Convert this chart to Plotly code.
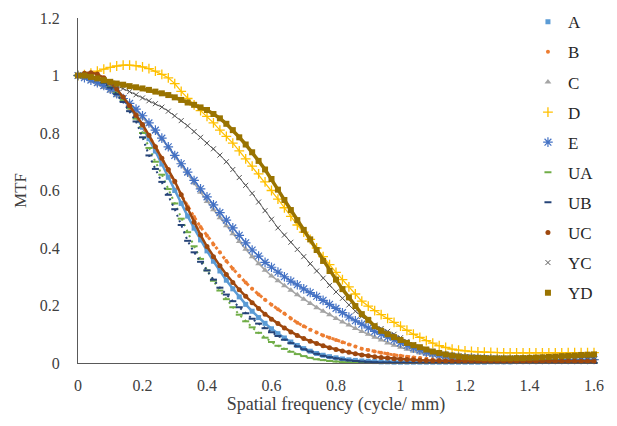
import plotly.graph_objects as go

freq = [0.00, 0.02, 0.04, 0.06, 0.08, 0.10, 0.12, 0.14, 0.16, 0.18,
        0.20, 0.22, 0.24, 0.26, 0.28, 0.30, 0.32, 0.34, 0.36, 0.38,
        0.40, 0.42, 0.44, 0.46, 0.48, 0.50, 0.52, 0.54, 0.56, 0.58,
        0.60, 0.62, 0.64, 0.66, 0.68, 0.70, 0.72, 0.74, 0.76, 0.78,
        0.80, 0.82, 0.84, 0.86, 0.88, 0.90, 0.92, 0.94, 0.96, 0.98,
        1.00, 1.02, 1.04, 1.06, 1.08, 1.10, 1.12, 1.14, 1.16, 1.18,
        1.20, 1.22, 1.24, 1.26, 1.28, 1.30, 1.32, 1.34, 1.36, 1.38,
        1.40, 1.42, 1.44, 1.46, 1.48, 1.50, 1.52, 1.54, 1.56, 1.58,
        1.60]

A = [1.000, 0.999, 0.996, 0.990, 0.980, 0.965, 0.945, 0.920, 0.890, 0.857,
     0.820, 0.780, 0.737, 0.692, 0.646, 0.600, 0.555, 0.511, 0.469, 0.428,
     0.390, 0.354, 0.320, 0.288, 0.258, 0.230, 0.204, 0.180, 0.158, 0.138,
     0.119, 0.102, 0.087, 0.073, 0.061, 0.050, 0.041, 0.033, 0.027, 0.022,
     0.018, 0.014, 0.011, 0.009, 0.007, 0.006, 0.005, 0.004, 0.004, 0.003,
     0.003, 0.003, 0.003, 0.003, 0.003, 0.003, 0.003, 0.003, 0.003, 0.003,
     0.003, 0.003, 0.003, 0.003, 0.004, 0.004, 0.004, 0.004, 0.005, 0.005,
     0.005, 0.005, 0.006, 0.006, 0.006, 0.006, 0.007, 0.007, 0.007, 0.008,
     0.008]

B = [1.000, 1.002, 1.000, 0.993, 0.980, 0.962, 0.940, 0.915, 0.887, 0.857,
     0.825, 0.790, 0.752, 0.712, 0.670, 0.628, 0.585, 0.545, 0.508, 0.473,
     0.443, 0.412, 0.385, 0.355, 0.328, 0.303, 0.280, 0.258, 0.238, 0.220,
     0.203, 0.187, 0.172, 0.155, 0.140, 0.128, 0.116, 0.106, 0.096, 0.088,
     0.080, 0.072, 0.064, 0.057, 0.050, 0.045, 0.040, 0.036, 0.032, 0.028,
     0.025, 0.022, 0.019, 0.017, 0.015, 0.013, 0.012, 0.011, 0.010, 0.009,
     0.008, 0.008, 0.008, 0.008, 0.008, 0.008, 0.008, 0.008, 0.008, 0.008,
     0.008, 0.008, 0.008, 0.008, 0.008, 0.008, 0.008, 0.008, 0.008, 0.008,
     0.008]

C = [1.000, 0.990, 0.980, 0.970, 0.958, 0.945, 0.930, 0.913, 0.895, 0.875,
     0.853, 0.830, 0.805, 0.778, 0.750, 0.720, 0.690, 0.658, 0.626, 0.594,
     0.562, 0.533, 0.505, 0.477, 0.450, 0.423, 0.396, 0.370, 0.345, 0.323,
     0.303, 0.286, 0.269, 0.253, 0.237, 0.222, 0.207, 0.192, 0.180, 0.168,
     0.155, 0.143, 0.132, 0.120, 0.110, 0.100, 0.090, 0.080, 0.070, 0.062,
     0.055, 0.048, 0.041, 0.035, 0.030, 0.026, 0.022, 0.019, 0.017, 0.015,
     0.013, 0.012, 0.011, 0.010, 0.010, 0.010, 0.010, 0.010, 0.010, 0.010,
     0.010, 0.010, 0.011, 0.011, 0.011, 0.012, 0.012, 0.012, 0.013, 0.013,
     0.013]

D = [1.000, 1.003, 1.008, 1.015, 1.022, 1.028, 1.033, 1.036, 1.036, 1.034,
     1.030, 1.024, 1.015, 1.004, 0.992, 0.972, 0.945, 0.920, 0.898, 0.878,
     0.858, 0.835, 0.810, 0.788, 0.765, 0.738, 0.710, 0.685, 0.658, 0.630,
     0.600, 0.570, 0.540, 0.510, 0.480, 0.455, 0.430, 0.400, 0.370, 0.342,
     0.315, 0.290, 0.265, 0.240, 0.215, 0.198, 0.182, 0.168, 0.155, 0.141,
     0.128, 0.114, 0.100, 0.089, 0.078, 0.069, 0.060, 0.054, 0.048, 0.045,
     0.042, 0.040, 0.039, 0.038, 0.037, 0.036, 0.035, 0.035, 0.035, 0.035,
     0.035, 0.035, 0.035, 0.035, 0.035, 0.035, 0.036, 0.036, 0.036, 0.036,
     0.036]

E = [1.000, 0.992, 0.984, 0.975, 0.965, 0.952, 0.937, 0.920, 0.903, 0.883,
     0.860, 0.835, 0.810, 0.782, 0.752, 0.722, 0.693, 0.664, 0.635, 0.606,
     0.578, 0.550, 0.523, 0.497, 0.470, 0.444, 0.418, 0.393, 0.372, 0.350,
     0.333, 0.316, 0.300, 0.285, 0.272, 0.258, 0.245, 0.232, 0.218, 0.204,
     0.190, 0.175, 0.160, 0.147, 0.135, 0.122, 0.110, 0.100, 0.090, 0.080,
     0.070, 0.061, 0.052, 0.045, 0.038, 0.033, 0.028, 0.025, 0.022, 0.020,
     0.018, 0.017, 0.016, 0.015, 0.014, 0.013, 0.012, 0.012, 0.012, 0.012,
     0.012, 0.012, 0.012, 0.012, 0.012, 0.012, 0.012, 0.012, 0.012, 0.012,
     0.012]

UA = [1.000, 0.998, 0.994, 0.987, 0.975, 0.960, 0.940, 0.915, 0.886, 0.850,
      0.800, 0.748, 0.700, 0.655, 0.605, 0.555, 0.502, 0.455, 0.406, 0.362,
      0.322, 0.286, 0.252, 0.222, 0.194, 0.168, 0.145, 0.124, 0.105, 0.088,
      0.073, 0.060, 0.049, 0.039, 0.031, 0.024, 0.018, 0.013, 0.010, 0.007,
      0.005, 0.003, 0.002, 0.001, 0.000, 0.000, 0.000, 0.000, 0.000, 0.000,
      0.000, 0.000, 0.000, 0.000, 0.000, 0.000, 0.000, 0.000, 0.000, 0.000,
      0.000, 0.000, 0.000, 0.000, 0.000, 0.000, 0.000, 0.000, 0.000, 0.000,
      0.000, 0.000, 0.000, 0.000, 0.000, 0.000, 0.000, 0.000, 0.000, 0.000,
      0.000]

UB = [1.000, 0.998, 0.995, 0.988, 0.975, 0.958, 0.935, 0.908, 0.876, 0.840,
      0.785, 0.722, 0.675, 0.630, 0.585, 0.535, 0.480, 0.425, 0.385, 0.352,
      0.322, 0.290, 0.262, 0.238, 0.215, 0.194, 0.173, 0.154, 0.137, 0.121,
      0.107, 0.094, 0.081, 0.069, 0.058, 0.048, 0.040, 0.032, 0.025, 0.020,
      0.016, 0.012, 0.009, 0.007, 0.005, 0.004, 0.003, 0.002, 0.002, 0.001,
      0.001, 0.001, 0.000, 0.000, 0.000, 0.000, 0.000, 0.000, 0.000, 0.000,
      0.000, 0.000, 0.000, 0.000, 0.000, 0.000, 0.000, 0.000, 0.000, 0.000,
      0.000, 0.000, 0.000, 0.000, 0.000, 0.000, 0.000, 0.000, 0.000, 0.000,
      0.000]

UC = [1.000, 1.008, 1.010, 1.005, 0.992, 0.975, 0.953, 0.925, 0.895, 0.862,
      0.830, 0.792, 0.752, 0.712, 0.673, 0.632, 0.585, 0.537, 0.490, 0.445,
      0.405, 0.370, 0.338, 0.308, 0.280, 0.255, 0.232, 0.210, 0.190, 0.170,
      0.152, 0.137, 0.122, 0.108, 0.096, 0.085, 0.076, 0.068, 0.060, 0.053,
      0.047, 0.042, 0.037, 0.032, 0.028, 0.025, 0.022, 0.019, 0.017, 0.015,
      0.013, 0.012, 0.011, 0.010, 0.009, 0.008, 0.008, 0.007, 0.007, 0.007,
      0.006, 0.006, 0.006, 0.006, 0.006, 0.006, 0.006, 0.006, 0.006, 0.006,
      0.006, 0.006, 0.006, 0.006, 0.006, 0.006, 0.006, 0.006, 0.006, 0.006,
      0.006]

YC = [1.000, 0.998, 0.994, 0.988, 0.981, 0.973, 0.964, 0.955, 0.944, 0.933,
      0.922, 0.912, 0.902, 0.890, 0.876, 0.860, 0.843, 0.825, 0.805, 0.785,
      0.765, 0.745, 0.723, 0.700, 0.673, 0.645, 0.618, 0.590, 0.560, 0.530,
      0.500, 0.470, 0.445, 0.420, 0.395, 0.370, 0.345, 0.320, 0.295, 0.270,
      0.247, 0.225, 0.202, 0.180, 0.162, 0.145, 0.132, 0.120, 0.110, 0.100,
      0.088, 0.075, 0.064, 0.053, 0.045, 0.038, 0.033, 0.029, 0.026, 0.024,
      0.022, 0.021, 0.020, 0.019, 0.018, 0.018, 0.018, 0.018, 0.018, 0.018,
      0.018, 0.018, 0.019, 0.019, 0.019, 0.019, 0.020, 0.020, 0.020, 0.020,
      0.020]

YD = [1.000, 1.000, 0.995, 0.990, 0.984, 0.978, 0.972, 0.968, 0.963, 0.959,
      0.955, 0.950, 0.944, 0.938, 0.932, 0.924, 0.915, 0.906, 0.898, 0.889,
      0.880, 0.866, 0.851, 0.832, 0.810, 0.785, 0.760, 0.733, 0.703, 0.673,
      0.640, 0.603, 0.567, 0.532, 0.497, 0.463, 0.430, 0.393, 0.355, 0.320,
      0.290, 0.257, 0.228, 0.198, 0.170, 0.150, 0.128, 0.112, 0.100, 0.090,
      0.080, 0.070, 0.062, 0.055, 0.047, 0.040, 0.035, 0.030, 0.026, 0.023,
      0.020, 0.019, 0.018, 0.017, 0.016, 0.016, 0.016, 0.016, 0.017, 0.017,
      0.018, 0.019, 0.020, 0.021, 0.022, 0.024, 0.025, 0.026, 0.028, 0.029,
      0.030]

series_names = ["A", "B", "C", "D", "E", "UA", "UB", "UC", "YC", "YD"]
series_values = [A, B, C, D, E, UA, UB, UC, YC, YD]

# style per series: colour, marker symbol, marker size, marker line width, connecting line width, line dash
styles = {
    "A":  dict(color="#5B9BD5", symbol="square", size=5, mlw=0, lw=2.5, dash="solid"),
    "B":  dict(color="#ED7D31", symbol="circle", size=4, mlw=0, lw=3, dash="dot"),
    "C":  dict(color="#A5A5A5", symbol="triangle-up", size=6, mlw=0, lw=1.5, dash="solid"),
    "D":  dict(color="#FFC000", symbol="cross-thin-open", size=7, mlw=1.3, lw=1.2, dash="solid"),
    "E":  dict(color="#4472C4", symbol="asterisk-open", size=8, mlw=1.2, lw=1.5, dash="solid"),
    "UA": dict(color="#70AD47", symbol="line-ew-open", size=5, mlw=2, lw=2, dash="2px,4px"),
    "UB": dict(color="#264478", symbol="line-ew-open", size=5, mlw=2, lw=2, dash="2px,4px"),
    "UC": dict(color="#9E480E", symbol="circle", size=5, mlw=0, lw=2.5, dash="solid"),
    "YC": dict(color="#595959", symbol="x-thin-open", size=5, mlw=1, lw=1, dash="solid"),
    "YD": dict(color="#997300", symbol="square", size=6, mlw=0, lw=3.5, dash="solid"),
}

fig = go.Figure()
for name, vals in zip(series_names, series_values):
    s = styles[name]
    if s["lw"] > 0:
        fig.add_trace(go.Scatter(
            x=freq, y=vals, mode="lines", name=name, legendgroup=name,
            showlegend=False, hoverinfo="skip", cliponaxis=False,
            line=dict(color=s["color"], width=s["lw"], dash=s["dash"]),
        ))
    fig.add_trace(go.Scatter(
        x=freq, y=vals, mode="markers", name=name, legendgroup=name,
        cliponaxis=False,
        marker=dict(symbol=s["symbol"], size=s["size"], color=s["color"],
                    line=dict(color=s["color"], width=s["mlw"])),
    ))

font_family = "Liberation Serif"

fig.update_layout(
    width=617, height=426,
    margin=dict(l=78, r=23, t=18, b=63, autoexpand=False),
    paper_bgcolor="white", plot_bgcolor="white",
    font=dict(family=font_family, size=16, color="#404040"),
    showlegend=True,
    legend=dict(
        x=0.872, y=1.04, xanchor="left", yanchor="top",
        font=dict(family=font_family, size=17, color="#262626"),
        bgcolor="rgba(0,0,0,0)", tracegroupgap=5, traceorder="grouped",
        itemsizing="trace", maxheight=1.0,
    ),
    xaxis=dict(
        range=[0, 1.6], dtick=0.2, tick0=0, showgrid=False, zeroline=False,
        showline=True, linecolor="#595959", linewidth=1, ticks="",
        ticklabelstandoff=8,
        tickfont=dict(family=font_family, size=16, color="#404040"),
        title=dict(text="Spatial frequency (cycle/ mm)", standoff=2,
                   font=dict(family=font_family, size=18, color="#404040")),
    ),
    yaxis=dict(
        range=[0, 1.2], dtick=0.2, tick0=0, showgrid=False, zeroline=False,
        showline=True, linecolor="#595959", linewidth=1, ticks="",
        ticklabelstandoff=14,
        tickfont=dict(family=font_family, size=16, color="#404040"),
        title=dict(text="MTF", standoff=8,
                   font=dict(family=font_family, size=17, color="#404040")),
    ),
)

fig.write_html(
    "out.html",
    config={"displayModeBar": False},
    post_script="document.body.style.margin='0px';document.body.style.padding='0px';",
)
